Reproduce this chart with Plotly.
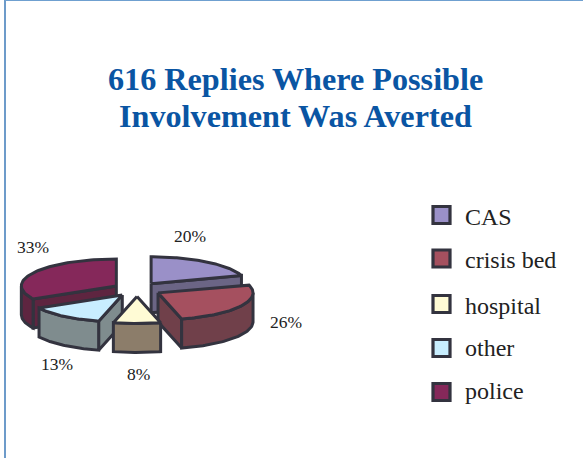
import numpy as np
import plotly.graph_objects as go

title_lines = ["616 Replies Where Possible", "Involvement Was Averted"]
categories = ["CAS", "crisis bed", "hospital", "other", "police"]
percents = [20, 26, 8, 13, 33]

top_colors = ["#9A90C8", "#A5505F", "#FFFBD5", "#C8EEFF", "#85285A"]
wall_colors = ["#6B6585", "#70404A", "#8C7D6A", "#7F8C8E", "#5E2540"]
edge = "#33333F"
label_pos = [(190, 236), (286, 322), (138, 374), (57, 364), (33, 247)]

W, H = 583, 458
CX, CY, RX, RY, DEPTH = 137, 289.5, 95, 27, 29
EX, EY = 24, 7
LINE_W = 3

fig = go.Figure()


def poly(xs, ys, color, name):
    fig.add_trace(go.Scatter(
        x=list(xs) + [xs[0]], y=list(ys) + [ys[0]], mode="lines", fill="toself",
        fillcolor=color, line=dict(color=edge, width=LINE_W),
        name=name, showlegend=False, hoverinfo="skip"))


total = sum(percents)
edges = np.cumsum([0] + percents) / total * 360.0
slices = []
for i, cat in enumerate(categories):
    a0, a1 = edges[i], edges[i + 1]
    mid = np.radians((a0 + a1) / 2)
    ax, ay = CX + EX * np.sin(mid), CY - EY * np.cos(mid)
    slices.append((i, a0, a1, ax, ay))


def rim(ax, ay, deg):
    t = np.radians(deg)
    return ax + RX * np.sin(t), ay - RY * np.cos(t)


# painter's order: rear slices first
for i, a0, a1, ax, ay in sorted(slices, key=lambda s: s[4]):
    cat = categories[i]
    # cut faces
    for ang, visible in ((a0, np.sin(np.radians(a0)) < -1e-6),
                         (a1, np.cos(np.radians(a1 + 90)) < -1e-6)):
        if visible:
            rx_, ry_ = rim(ax, ay, ang)
            poly([ax, rx_, rx_, ax], [ay, ry_, ry_ + DEPTH, ay + DEPTH], wall_colors[i], cat)
    # outer wall: part of the arc facing the viewer
    lo, hi = max(a0, 90), min(a1, 270)
    if hi > lo:
        d = np.linspace(lo, hi, 50)
        px, py = rim(ax, ay, d)
        poly(list(px) + list(px[::-1]), list(py) + list(py[::-1] + DEPTH), wall_colors[i], cat)
    # top face
    d = np.linspace(a0, a1, 70)
    px, py = rim(ax, ay, d)
    poly([ax] + list(px), [ay] + list(py), top_colors[i], cat)

# legend
leg_y = [215, 258.5, 304, 348, 392]
leg_text_y = [217, 260, 305.5, 348, 391]
for i, cat in enumerate(categories):
    fig.add_trace(go.Scatter(
        x=[441.5], y=[leg_y[i]], mode="markers",
        marker=dict(symbol="square", size=17, color=top_colors[i],
                    line=dict(color=edge, width=3.2)),
        name=cat, showlegend=False, hoverinfo="skip"))
    fig.add_annotation(x=462.5, y=leg_text_y[i], text=cat, showarrow=False, xanchor="left",
                       yanchor="middle", font=dict(family="Liberation Serif", size=24, color="#222222"))

for i, p in enumerate(percents):
    fig.add_annotation(x=label_pos[i][0], y=label_pos[i][1], text=f"{p}%", showarrow=False,
                       font=dict(family="Liberation Serif", size=17.5, color="#222222"))

for line, y in zip(title_lines, (78.5, 116)):
    fig.add_annotation(x=295.5, y=y, text=f"<b>{line}</b>", showarrow=False,
                       font=dict(family="Liberation Serif", size=32.2, color="#0A55A3"))

fig.add_shape(type="line", x0=5, x1=5, y0=0, y1=H, line=dict(color="#3C7AB8", width=1.5))
fig.add_shape(type="line", x0=5, x1=W, y0=0.5, y1=0.5, line=dict(color="#6FA0D0", width=1.2))

fig.update_layout(
    width=W, height=H, margin=dict(l=0, r=0, t=0, b=0),
    paper_bgcolor="white", plot_bgcolor="white", showlegend=False,
    xaxis=dict(range=[0, W], visible=False, fixedrange=True),
    yaxis=dict(range=[H, 0], visible=False, fixedrange=True),
)
fig.write_html("out.html", config={"displayModeBar": False},
               post_script="document.body.style.margin='0';document.body.style.overflow='hidden';")
